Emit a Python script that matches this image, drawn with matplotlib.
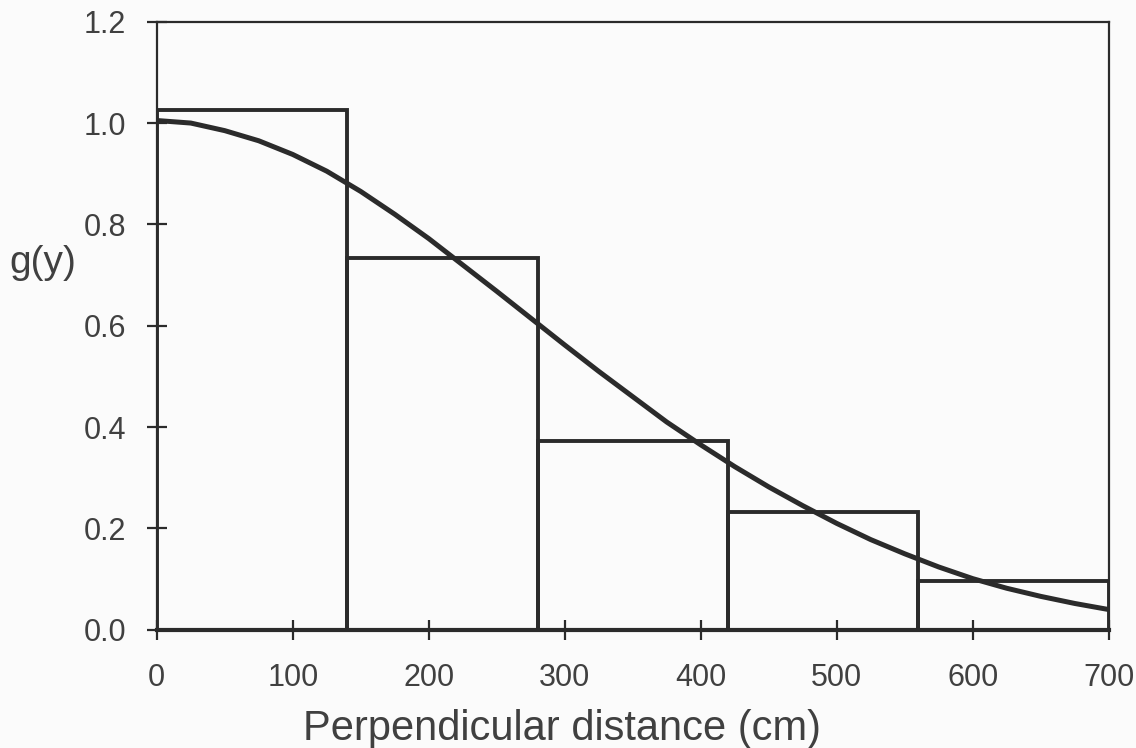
import numpy as np
import matplotlib.pyplot as plt

# histogram of scaled detections, 140 cm bins
bin_left = [0, 140, 280, 420, 560]
bin_width = 140
bar_height = [1.026, 0.734, 0.373, 0.233, 0.097]

# fitted detection function
curve_x = [0, 25, 50, 75, 100, 125, 150, 175, 200, 225, 250, 275, 300, 325, 350,
           375, 400, 425, 450, 475, 500, 525, 550, 575, 600, 625, 650, 675, 700]
curve_y = [1.005, 1.0, 0.985, 0.965, 0.938, 0.905, 0.865, 0.82, 0.772, 0.72, 0.668,
           0.615, 0.562, 0.51, 0.46, 0.41, 0.365, 0.322, 0.282, 0.245, 0.21, 0.178,
           0.15, 0.124, 0.101, 0.082, 0.066, 0.052, 0.04]

xticks = [0, 100, 200, 300, 400, 500, 600, 700]
yticks = [0.0, 0.2, 0.4, 0.6, 0.8, 1.0, 1.2]

ink = "#2b2b2b"
txt = "#404040"
plt.rcParams['font.family'] = ['Liberation Sans', 'DejaVu Sans']

fig = plt.figure(figsize=(11.36, 7.48), dpi=100, facecolor="#fbfbfb")
ax = fig.add_axes([0.138, 0.158, 0.838, 0.813])
ax.set_facecolor("#fbfbfb")

ax.bar(bin_left, bar_height, width=bin_width, align="edge", fill=False,
       edgecolor=ink, linewidth=2.8, zorder=2)
ax.plot(curve_x, curve_y, color=ink, linewidth=3.6, zorder=3,
        solid_joinstyle="round")

ax.set_xlim(0, 700)
ax.set_ylim(0, 1.2)
ax.set_xticks(xticks)
ax.set_xticklabels([str(v) for v in xticks])
ax.set_yticks(yticks)
ax.set_yticklabels([f"{v:.1f}" for v in yticks])

for s in ax.spines.values():
    s.set_color(ink)
    s.set_linewidth(1.6)
ax.spines['bottom'].set_linewidth(3)

ax.tick_params(direction="inout", length=14, width=1.6, color=ink,
               labelsize=22, labelcolor=txt)
ax.tick_params(axis="x", pad=17)
ax.tick_params(axis="y", pad=15)

ax.set_xlabel("Perpendicular distance (cm)", fontsize=30, color=txt, va="baseline")
ax.xaxis.set_label_coords(0.426, -0.181)
ax.set_ylabel("g(y)", fontsize=28, color=txt, rotation=0, va="center", ha="center")
ax.yaxis.set_label_coords(-0.12, 0.604)

fig.savefig("out.png", dpi=100, facecolor=fig.get_facecolor())
plt.close(fig)
